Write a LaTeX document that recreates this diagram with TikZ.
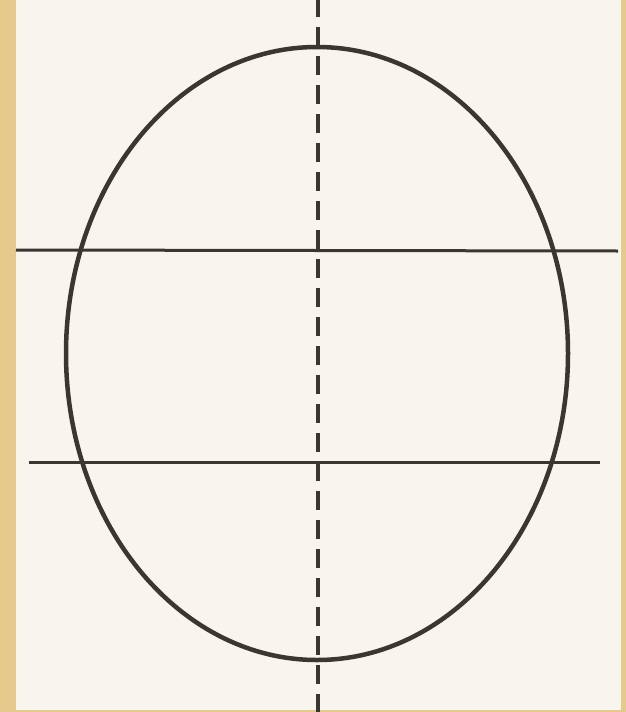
\documentclass[tikz,border=0pt]{standalone}
\begin{document}
\begin{tikzpicture}[x=1pt,y=-1pt,
  outline/.style={draw=inkc,line width=4.5pt},
  guide/.style={draw=inkc,line width=3pt},
  axisline/.style={draw=inkc,line width=4.5pt,dash pattern=on 19pt off 10pt}]
\definecolor{gold}{HTML}{E6C98C}
\definecolor{paper}{HTML}{F8F5EF}
\definecolor{inkc}{HTML}{3A3631}
\useasboundingbox (0,0) rectangle (626,712);
\fill[gold] (0,0) rectangle (626,712);
\fill[paper] (16,0) rectangle (621,710);
% egg outline
\coordinate (c) at (317,353.5);
\draw[outline] (c) ellipse [x radius=251, y radius=306.5];
% horizontal guides
\coordinate (u1) at (16,250);
\coordinate (u2) at (618,251);
\coordinate (l1) at (29,462);
\coordinate (l2) at (600,462);
\draw[guide] (u1) -- (u2);
\draw[guide] (l1) -- (l2);
% dashed axis
\coordinate (a1) at (318,-2);
\coordinate (a2) at (318,712);
\draw[axisline] (a1) -- (a2);
\end{tikzpicture}
\end{document}
